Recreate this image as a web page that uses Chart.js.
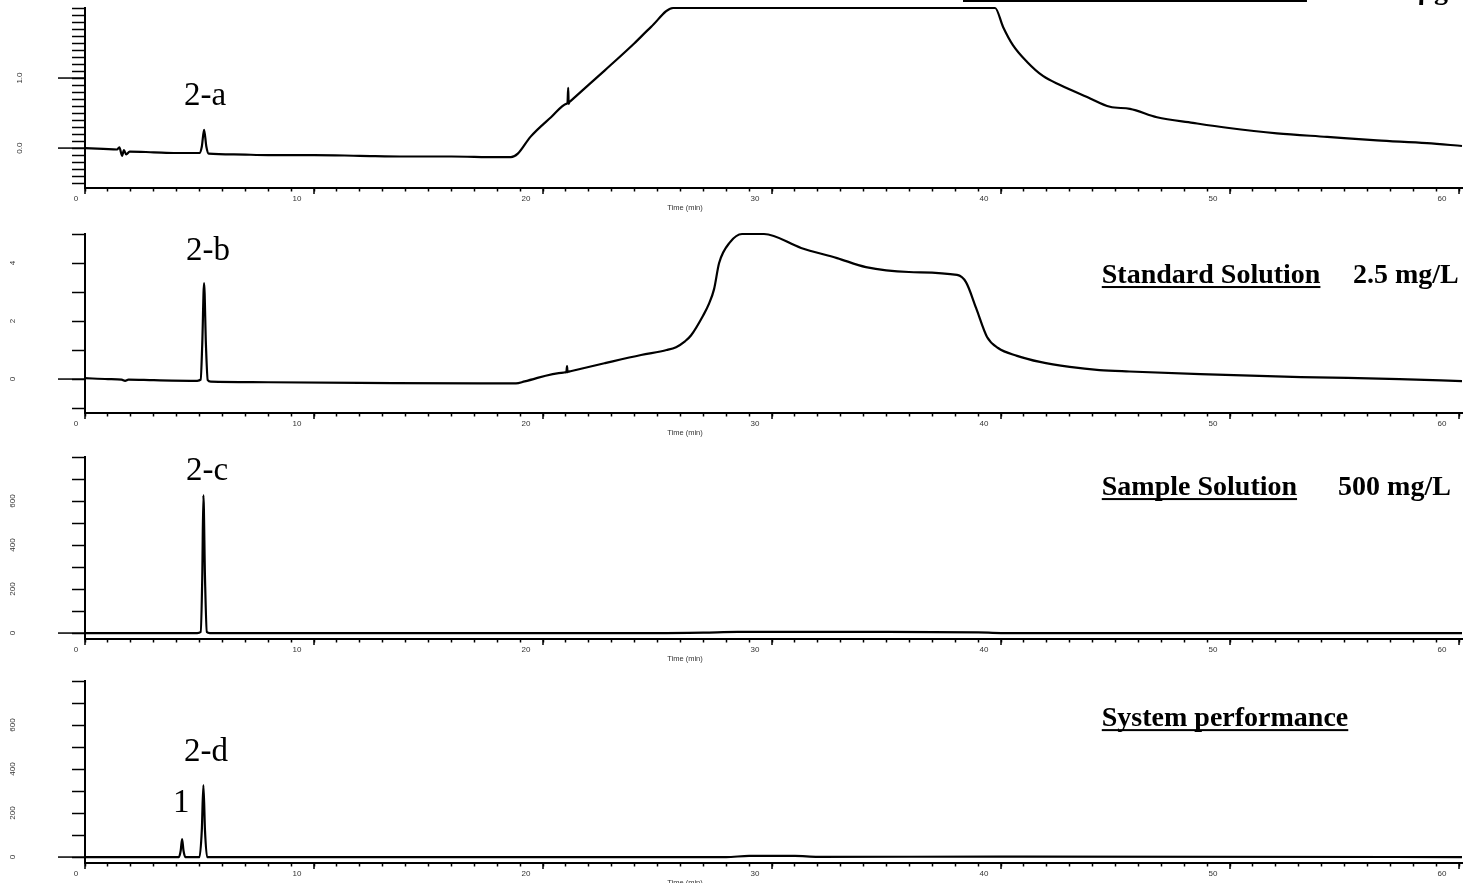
<!DOCTYPE html>
<html>
<head>
<meta charset="utf-8">
<script src="https://cdn.jsdelivr.net/npm/chart.js@4.4.1/dist/chart.umd.min.js"></script>
<style>
  html, body { margin: 0; padding: 0; background: #fff; overflow: hidden; }
  body { width: 1464px; height: 883px; position: relative; }
  canvas { position: absolute; left: 0; }
</style>
</head>
<body>
<canvas id="panelA" width="1464" height="220" style="top:-2px"></canvas>
<canvas id="panelB" width="1464" height="219" style="top:224px"></canvas>
<canvas id="panelC" width="1464" height="222" style="top:447px"></canvas>
<canvas id="panelD" width="1464" height="222" style="top:671px"></canvas>
<script>
// x axis (minutes)
const xTickLabels = [0, 10, 20, 30, 40, 50, 60];

// 2-a : detection limit run (signal saturates at the top of the axis)
const timeA = [0, 0.8, 1.4, 1.5, 1.62, 1.7, 1.8, 1.95, 3, 4, 5, 5.1, 5.2, 5.3, 5.4, 6.5, 8, 10, 12, 14, 16, 18, 18.6, 18.9, 19.45, 20.35, 21.04, 21.07, 21.1, 21.12, 21.15, 21.2, 22.7, 23.97, 24.72, 25.68, 39.74, 40.09, 40.52, 41.14, 41.83, 42.58, 43.76, 44.76, 45.63, 46.81, 48.38, 49.87, 52.05, 54.24, 56.42, 58.6, 60.13];
const signalA = [0, -0.01, -0.02, 0.01, -0.11, -0.03, -0.09, -0.05, -0.06, -0.07, -0.07, 0.02, 0.26, 0.02, -0.08, -0.09, -0.1, -0.1, -0.11, -0.12, -0.12, -0.13, -0.13, -0.08, 0.16, 0.44, 0.635, 0.645, 0.86, 0.63, 0.655, 0.67, 1.11, 1.49, 1.73, 2.0, 2.0, 1.73, 1.47, 1.23, 1.03, 0.9, 0.73, 0.59, 0.56, 0.44, 0.36, 0.29, 0.21, 0.16, 0.11, 0.07, 0.03];
const yLabelsA = [0, 1];

// 2-b : standard solution 2.5 mg/L
const timeB = [0, 1, 1.6, 1.75, 1.9, 3, 4.9, 5.05, 5.12, 5.2, 5.28, 5.36, 5.5, 8, 12, 17.25, 18.82, 19.2, 20.9, 21.02, 21.05, 21.07, 21.1, 21.2, 22.71, 24.28, 25.4, 25.81, 26.2, 26.46, 27.0, 27.25, 27.47, 27.69, 28.17, 28.69, 29.65, 31.27, 32.84, 34.1, 35.98, 38.08, 38.47, 38.91, 39.39, 39.87, 40.7, 41.7, 43, 44.3, 45.6, 48.7, 53.1, 57.4, 60.13];
const signalB = [0.03, 0, -0.02, -0.06, -0.02, -0.04, -0.06, -0.02, 1.2, 3.31, 1.2, -0.04, -0.09, -0.11, -0.13, -0.15, -0.15, -0.08, 0.225, 0.245, 0.45, 0.235, 0.25, 0.27, 0.55, 0.83, 1.0, 1.1, 1.3, 1.5, 2.2, 2.6, 3.1, 4.0, 4.72, 5.0, 5.0, 4.52, 4.17, 3.86, 3.69, 3.59, 3.34, 2.45, 1.45, 1.07, 0.8, 0.59, 0.42, 0.31, 0.26, 0.17, 0.07, 0, -0.07];
const yLabelsB = [0, 2, 4];

// 2-c : sample solution 500 mg/L
const timeC = [0, 4.9, 5.05, 5.12, 5.17, 5.24, 5.32, 5.45, 25, 27, 28.5, 34, 39, 40, 60.13];
const signalC = [0, 0, 5, 250, 627, 250, 5, 0, 0, 2, 5, 5, 3, 0, 0];
const yLabelsC = [0, 200, 400, 600];

// 2-d : system performance
const timeD = [0, 4.1, 4.18, 4.24, 4.3, 4.38, 5.0, 5.1, 5.17, 5.24, 5.33, 28, 29, 31, 32, 40, 60.13];
const signalD = [0, 0, 30, 82, 30, 0, 0, 120, 327, 120, 0, 0, 5, 5, 1, 2, 0];
const yLabelsD = [0, 200, 400, 600];

const serif = '"Liberation Serif", "Times New Roman", serif';
const sans = '"Liberation Sans", Arial, sans-serif';

const decor = {
  id: 'decor',
  afterDraw(chart, args, o) {
    const { ctx, chartArea: a, scales: { x, y } } = chart;
    ctx.save();
    ctx.strokeStyle = '#000';
    ctx.fillStyle = '#000';

    // longer ticks on the y axis
    ctx.lineWidth = 1.5;
    o.longTicks.forEach(v => {
      const py = y.getPixelForValue(v);
      ctx.beginPath(); ctx.moveTo(a.left - 27, py); ctx.lineTo(a.left, py); ctx.stroke();
    });
    // longer ticks on the x axis every 10 min
    xTickLabels.forEach(v => {
      const px = x.getPixelForValue(v);
      ctx.beginPath(); ctx.moveTo(px, a.bottom); ctx.lineTo(px, a.bottom + 6); ctx.stroke();
    });

    // tick labels
    ctx.fillStyle = '#333';
    ctx.font = '8px ' + sans;
    ctx.textAlign = 'center';
    ctx.textBaseline = 'middle';
    o.yLabels.forEach(v => {
      ctx.save();
      ctx.translate(o.yLabelX, y.getPixelForValue(v));
      ctx.rotate(-Math.PI / 2);
      ctx.fillText(o.decimals ? v.toFixed(o.decimals) : String(v), 0, 0);
      ctx.restore();
    });
    xTickLabels.forEach(v => {
      ctx.fillText(String(v), x.getPixelForValue(v) + (v === 0 ? -9 : -17), a.bottom + 11);
    });
    ctx.font = '7.5px ' + sans;
    ctx.fillText('Time (min)', x.getPixelForValue(26.2), a.bottom + 20);

    // peak names
    ctx.fillStyle = '#000';
    ctx.textAlign = 'left';
    ctx.textBaseline = 'alphabetic';
    ctx.font = '33px ' + serif;
    o.marks.forEach(m => ctx.fillText(m.text, x.getPixelForValue(m.t), y.getPixelForValue(m.v)));

    // panel title, underlined, plus concentration
    ctx.font = 'bold 28px ' + serif;
    if (o.title) {
      const tx = x.getPixelForValue(o.title.t);
      const ty = y.getPixelForValue(o.title.v);
      ctx.fillText(o.title.text, tx, ty);
      const w = ctx.measureText(o.title.text).width;
      ctx.fillRect(tx, ty + 3, w, 2);
      if (o.title.unit) ctx.fillText(o.title.unit, x.getPixelForValue(o.title.unitT), ty);
    }
    if (o.cutTitle) {
      // title of the top panel, cut off by the picture edge
      const uy = y.getPixelForValue(o.cutTitle.v);
      const x0 = x.getPixelForValue(o.cutTitle.t0);
      const x1 = x.getPixelForValue(o.cutTitle.t1);
      ctx.fillRect(x0, uy - 1, x1 - x0, 2);
      ctx.fillText(o.cutTitle.unit, x.getPixelForValue(o.cutTitle.unitT), uy - 2);
    }
    ctx.restore();
  }
};

function makePanel(id, times, signal, yMin, yMax, yStep, deco) {
  const ctx = document.getElementById(id).getContext('2d');
  return new Chart(ctx, {
    type: 'line',
    data: {
      datasets: [{
        data: times.map((t, i) => ({ x: t, y: signal[i] })),
        borderColor: '#000',
        borderWidth: 2.2,
        pointRadius: 0,
        cubicInterpolationMode: 'monotone',
        fill: false,
        clip: 4
      }]
    },
    options: {
      responsive: false,
      animation: false,
      layout: { padding: { top: 10, right: 2, left: 0, bottom: 0 } },
      plugins: { legend: { display: false }, tooltip: { enabled: false }, decor: deco },
      scales: {
        x: {
          type: 'linear',
          min: 0,
          max: 60.13,
          ticks: { display: false, stepSize: 1, maxTicksLimit: 1000, includeBounds: false },
          grid: { drawOnChartArea: false, drawTicks: true, tickLength: 3.5, tickColor: '#000', tickWidth: 1.5 },
          border: { display: true, color: '#000', width: 2 },
          afterFit: s => { s.height = 30; }
        },
        y: {
          min: yMin,
          max: yMax,
          ticks: { display: false, stepSize: yStep, maxTicksLimit: 1000, includeBounds: false },
          grid: { drawOnChartArea: false, drawTicks: true, tickLength: 13, tickColor: '#000', tickWidth: 1.5 },
          border: { display: true, color: '#000', width: 2 },
          afterFit: s => { s.width = 85; }
        }
      }
    },
    plugins: [decor]
  });
}

makePanel('panelA', timeA, signalA, -0.57, 2.0, 0.1, {
  longTicks: [0, 1], yLabels: yLabelsA, decimals: 1, yLabelX: 20,
  marks: [{ text: '2-a', t: 4.32, v: 0.61 }],
  cutTitle: { t0: 38.34, t1: 53.36, v: 2.1, unit: 'µg', unitT: 58.2 }
});
makePanel('panelB', timeB, signalB, -1.17, 5.0, 1, {
  longTicks: [0], yLabels: yLabelsB, decimals: 0, yLabelX: 13,
  marks: [{ text: '2-b', t: 4.41, v: 4.1 }],
  title: { text: 'Standard Solution', t: 44.4, v: 3.31, unit: '2.5 mg/L', unitT: 55.37 }
});
makePanel('panelC', timeC, signalC, -27, 800, 100, {
  longTicks: [0], yLabels: yLabelsC, decimals: 0, yLabelX: 13,
  marks: [{ text: '2-c', t: 4.41, v: 695 }],
  title: { text: 'Sample Solution', t: 44.4, v: 627, unit: '500 mg/L', unitT: 54.72 }
});
makePanel('panelD', timeD, signalD, -27, 800, 100, {
  longTicks: [0], yLabels: yLabelsD, decimals: 0, yLabelX: 13,
  marks: [{ text: '2-d', t: 4.32, v: 436 }, { text: '1', t: 3.84, v: 205 }],
  title: { text: 'System performance', t: 44.4, v: 595 }
});
</script>
</body>
</html>
